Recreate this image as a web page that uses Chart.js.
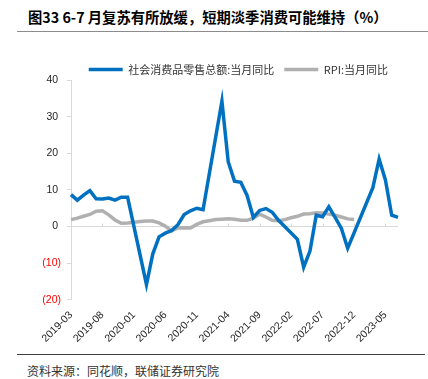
<!DOCTYPE html>
<html>
<head>
<meta charset="utf-8">
<script src="https://cdn.jsdelivr.net/npm/chart.js@4.4.0/dist/chart.umd.min.js"></script>
<style>
  body { margin: 0; background: #fff; width: 428px; height: 379px; position: relative; overflow: hidden; }
  #title { position: absolute; left: 28px; top: 6px; font: bold 14.3px "Noto Sans CJK SC", sans-serif; color: #000; white-space: nowrap; }
  #topRule { position: absolute; left: 17px; right: 0; top: 31px; border-top: 1.5px solid #8c8c8c; }
  #box { position: absolute; left: 0; top: 54px; width: 428px; height: 300px; }
  #bottomRule { position: absolute; left: 17px; right: 3px; top: 354px; border-top: 1px solid #404040; }
  #source { position: absolute; left: 27px; top: 362px; font: 12px "Noto Sans CJK SC", sans-serif; color: #333; white-space: nowrap; }
</style>
</head>
<body>
<div id="title">图33 6-7 月复苏有所放缓，短期淡季消费可能维持（%）</div>
<div id="topRule"></div>
<div id="box"><canvas id="myChart"></canvas></div>
<div id="bottomRule"></div>
<div id="source">资料来源：同花顺，联储证券研究院</div>
<script>
// monthly, 2019-03 .. 2023-07 (Jan/Feb of 2020-2023 only reported combined, so left empty)
var months = [
  '2019-03','2019-04','2019-05','2019-06','2019-07','2019-08','2019-09','2019-10','2019-11','2019-12',
  '2020-01','2020-02','2020-03','2020-04','2020-05','2020-06','2020-07','2020-08','2020-09','2020-10','2020-11','2020-12',
  '2021-01','2021-02','2021-03','2021-04','2021-05','2021-06','2021-07','2021-08','2021-09','2021-10','2021-11','2021-12',
  '2022-01','2022-02','2022-03','2022-04','2022-05','2022-06','2022-07','2022-08','2022-09','2022-10','2022-11','2022-12',
  '2023-01','2023-02','2023-03','2023-04','2023-05','2023-06','2023-07'
];

var retailSales = [
  8.7, 7.2, 8.6, 9.8, 7.6, 7.5, 7.8, 7.2, 8.0, 8.0,
  null, null, -15.8, -7.5, -2.8, -1.8, -1.1, 0.5, 3.3, 4.3, 5.0, 4.6,
  null, null, 34.2, 17.7, 12.4, 12.1, 8.5, 2.5, 4.4, 4.9, 3.9, 1.7,
  null, null, -3.5, -11.1, -6.7, 3.1, 2.7, 5.4, 2.5, -0.5, -5.9, -1.8,
  null, null, 10.6, 18.4, 12.7, 3.1, 2.5
];

var rpi = [
  1.9, 2.3, 2.8, 3.3, 4.2, 4.3, 3.2, 1.8, 0.9, 1.0,
  1.2, 1.4, 1.5, 1.5, 1.0, 0.1, -1.2, -0.4, -0.3, -0.4, 0.6, 1.3,
  1.6, 1.9, 2.0, 2.1, 2.0, 1.7, 1.7, 2.3, 3.4, 2.6, 1.7, 1.6,
  1.9, 2.4, 2.8, 3.4, 3.5, 3.8, 3.7, 3.4, 3.1, 2.6, 2.1, 1.9
];

var seriesNames = ['社会消费品零售总额:当月同比', 'RPI:当月同比'];
var yTicks = { min: -20, max: 40, step: 10 };
var labelEvery = 5;

// small up-ticks on the zero line
const zeroTicks = {
  id: 'zeroTicks',
  beforeDatasetsDraw(chart) {
    const ctx = chart.ctx;
    const x = chart.scales.x, y = chart.scales.y;
    const y0 = y.getPixelForValue(0);
    ctx.save();
    ctx.strokeStyle = '#d9d9d9';
    ctx.lineWidth = 1;
    for (let i = labelEvery; i < months.length; i += labelEvery) {
      const px = Math.round(x.getPixelForTick(i)) + 0.5;
      ctx.beginPath();
      ctx.moveTo(px, y0);
      ctx.lineTo(px, y0 - 3);
      ctx.stroke();
    }
    ctx.restore();
  }
};

// legend sits closer to the plot than Chart.js allows by default
const legendTight = {
  id: 'legendTight',
  beforeLayout(chart) {
    const lg = chart.legend;
    if (lg && !lg._tight) {
      const fit = lg.fit;
      lg.fit = function () { fit.call(this); this.height -= 5; };
      lg._tight = true;
    }
  }
};

var ctx = document.getElementById('myChart').getContext('2d');
var myChart = new Chart(ctx, {
  type: 'line',
  data: {
    labels: months,
    datasets: [{
      label: seriesNames[0],
      data: retailSales,
      borderColor: '#0070c0',
      backgroundColor: '#0070c0',
      borderWidth: 3.5,
      pointRadius: 0,
      tension: 0,
      spanGaps: true
    }, {
      label: seriesNames[1],
      data: rpi,
      borderColor: '#b0b0b0',
      backgroundColor: '#b0b0b0',
      borderWidth: 3.5,
      pointRadius: 0,
      tension: 0
    }]
  },
  options: {
    responsive: true,
    maintainAspectRatio: false,
    animation: false,
    layout: { padding: { left: 38, right: 30, top: 0, bottom: 0 } },
    plugins: {
      legend: {
        position: 'top',
        align: 'end',
        labels: {
          usePointStyle: true,
          pointStyle: 'line',
          pointStyleWidth: 34,
          boxHeight: 11,
          padding: 10,
          color: '#333',
          font: { family: '"Noto Sans CJK SC", sans-serif', size: 11 }
        }
      },
      tooltip: { enabled: false }
    },
    scales: {
      x: {
        grid: { display: false, drawTicks: false },
        border: { display: false },
        ticks: {
          autoSkip: false,
          maxRotation: 45,
          minRotation: 45,
          padding: 9,
          color: '#262626',
          font: { family: '"Liberation Sans", Arial, sans-serif', size: 10.5 },
          callback: function (v, i) { return i % labelEvery === 0 ? months[i] : ''; }
        }
      },
      y: {
        min: yTicks.min,
        max: yTicks.max,
        afterFit: function (scale) { scale.width = 33; },
        border: { display: true, color: '#d9d9d9', width: 1 },
        grid: {
          drawOnChartArea: true,
          color: function (c) { return c.tick && c.tick.value === 0 ? '#d9d9d9' : 'rgba(0,0,0,0)'; },
          tickColor: '#d9d9d9',
          tickLength: 4,
          lineWidth: 1
        },
        ticks: {
          stepSize: yTicks.step,
          padding: 6,
          color: function (c) { return c.tick.value < 0 ? '#ff0000' : '#262626'; },
          font: { family: '"Liberation Sans", Arial, sans-serif', size: 10.5 },
          callback: function (v) { return v < 0 ? '(' + (-v) + ')' : v + ' '; }
        }
      }
    }
  },
  plugins: [zeroTicks, legendTight]
});
</script>
</body>
</html>
